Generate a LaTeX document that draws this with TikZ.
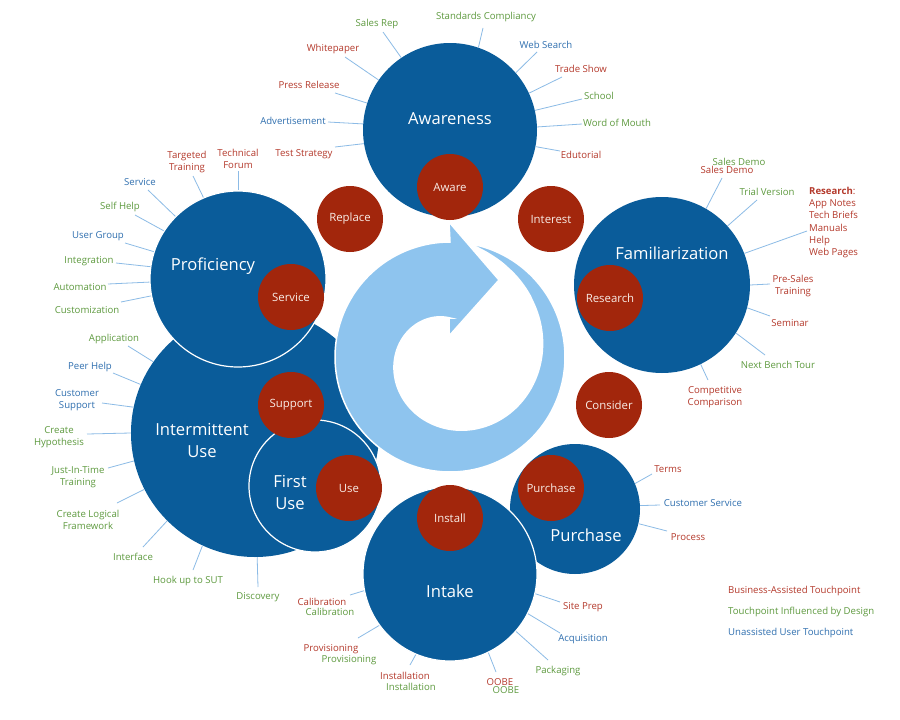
\documentclass[tikz,border=0pt]{standalone}
\usepackage{fontspec}
\setmainfont{Open Sans}
\definecolor{dkblue}{HTML}{0A5C9A}
\definecolor{rdc}{HTML}{A2260C}
\definecolor{arrowc}{HTML}{8EC4EE}
\definecolor{spokec}{HTML}{8CBBE6}
\definecolor{lred}{HTML}{B4392B}
\definecolor{lgreen}{HTML}{5E9A3F}
\definecolor{lblue}{HTML}{2F6FAF}
\definecolor{rtext}{HTML}{F8ECE6}
\begin{document}
\begin{tikzpicture}[x=1pt,y=-1pt,
  bigc/.style={circle, fill=dkblue, inner sep=0pt, minimum size=#1},
  outl/.style={draw=white, line width=1.2pt},
  redc/.style={circle, fill=rdc, inner sep=0pt, minimum size=66pt, text=rtext, font=\fontsize{11.4}{13}\selectfont},
  bigt/.style={text=white, align=center, inner sep=0pt, font=\fontsize{16.6}{22}\selectfont},
  lbl/.style={align=center, inner sep=0pt, font=\fontsize{9.6}{12.2}\selectfont},
  lr/.style={lbl, text=lred},
  lg/.style={lbl, text=lgreen},
  lb/.style={lbl, text=lblue},
  spoke/.style={draw=spokec, line width=0.8pt}]
\useasboundingbox[fill=white] (0,0) rectangle (900,720);

% big circles (back)
\node[bigc=248pt] (im) at (255,433) {};
\node[bigc=176pt, outl] (pr) at (238,279) {};
\node[bigc=132pt, outl] (fu) at (315,486) {};

% circular arrow
\fill[arrowc, draw=white, line width=1.5pt]
  plot[domain=80:-270, samples=140] ({450+115*cos(\x)}, {357-115*sin(\x)})
  -- (449,222) -- (499,280) -- (449,336) -- (449,318)
  -- plot[domain=-270:80, samples=140] ({450+(115-76*((80-\x)/350)^0.8)*cos(\x)}, {357-(115-76*((80-\x)/350)^0.8)*sin(\x)})
  -- cycle;

\node[bigc=174pt] (aw) at (450,130) {};
\node[bigc=176pt] (fa) at (662,285) {};
\node[bigc=130pt] (pu) at (575,509) {};
\node[bigc=174pt, outl] (in) at (450,574) {};

% red circles
\node[redc] (r1) at (450,187) {Aware};
\node[redc] (r2) at (551,219) {Interest};
\node[redc] (r3) at (350,219) {Replace};
\node[redc] (r4) at (610,298) {Research};
\node[redc] (r5) at (291,297) {Service};
\node[redc] (r6) at (291,405) {Support};
\node[redc] (r7) at (609,405) {Consider};
\node[redc] (r8) at (349,488) {Use};
\node[redc] (r9) at (551,488) {Purchase};
\node[redc] (r10) at (450,518) {Install};

% big texts
\node[bigt] (tAw) at (450,119) {Awareness};
\node[bigt] (tFa) at (672,253) {Familiarization};
\node[bigt] (tPr) at (213,266) {Proficiency};
\node[bigt] (tIm) at (202,440) {Intermittent\\Use};
\node[bigt] (tFu) at (290,492) {First\\Use};
\node[bigt] (tPu) at (586,535) {Purchase};
\node[bigt] (tIn) at (450,591) {Intake};

% Awareness labels
\node[lg] (a1) at (377,24) {Sales Rep};
\node[lg] (a2) at (486,17) {Standards Compliancy};
\node[lr] (a3) at (333,49) {Whitepaper};
\node[lr] (a4) at (309,85) {Press Release};
\node[lb] (a5) at (293,121) {Advertisement};
\node[lr] (a6) at (304,154) {Test Strategy};
\node[lb] (a7) at (546,45) {Web Search};
\node[lr] (a8) at (581,69) {Trade Show};
\node[lg] (a9) at (599,96) {School};
\node[lg] (a10) at (617,123) {Word of Mouth};
\node[lr] (a11) at (581,155) {Edutorial};
\draw[spoke] (383,32) -- (aw.124.8);
\draw[spoke] (483,28) -- (aw.71.8);
\draw[spoke] (345,57) -- (aw.145.2);
\draw[spoke] (335,93) -- (aw.162);
\draw[spoke] (328,122) -- (aw.176.7);
\draw[spoke] (335,147) -- (aw.189.7);
\draw[spoke] (537,52) -- (aw.41.7);
\draw[spoke] (562,77) -- (aw.25.7);
\draw[spoke] (582,99) -- (aw.13);
\draw[spoke] (582,124) -- (aw.2);
\draw[spoke] (560,151) -- (aw.-11);

% Proficiency labels
\node[lr] (p1) at (187,162) {Targeted\\Training};
\node[lr] (p2) at (238,159) {Technical\\Forum};
\node[lb] (p3) at (140,182) {Service};
\node[lg] (p4) at (120,207) {Self Help};
\node[lb] (p5) at (98,236) {User Group};
\node[lg] (p6) at (89,261) {Integration};
\node[lg] (p7) at (80,287) {Automation};
\node[lg] (p8) at (87,310) {Customization};
\draw[spoke] (193,176) -- (pr.113);
\draw[spoke] (238,171) -- (pr.90);
\draw[spoke] (148,190) -- (pr.135);
\draw[spoke] (135,215) -- (pr.147.9);
\draw[spoke] (125,243) -- (pr.162);
\draw[spoke] (116,263) -- (pr.172);
\draw[spoke] (108,284) -- (pr.182.6);
\draw[spoke] (121,302) -- (pr.191);

% Intermittent labels
\node[lg] (i1) at (114,339) {Application};
\node[lb] (i2) at (90,367) {Peer Help};
\node[lb] (i3) at (77,400) {Customer\\Support};
\node[lg] (i4) at (59,437) {Create\\Hypothesis};
\node[lg] (i5) at (78,477) {Just-In-Time\\Training};
\node[lg] (i6) at (88,520) {Create Logical\\Framework};
\node[lg] (i7) at (133,557) {Interface};
\node[lg] (i8) at (188,581) {Hook up to SUT};
\node[lg] (i9) at (258,597) {Discovery};
\draw[spoke] (128,346) -- (im.145.2);
\draw[spoke] (113,373) -- (im.157.3);
\draw[spoke] (102,403) -- (im.168.9);
\draw[spoke] (87,434) -- (im.180.5);
\draw[spoke] (108,468) -- (im.193.6);
\draw[spoke] (117,503) -- (im.207.2);
\draw[spoke] (143,547) -- (im.225);
\draw[spoke] (193,570) -- (im.245.5);
\draw[spoke] (258,587) -- (im.271.4);

% Familiarization labels
\node[lg] (f1) at (739,162) {Sales Demo};
\node[lr] (f2) at (727,170) {Sales Demo};
\node[lg] (f3) at (767,192) {Trial Version};
\node[lr, align=left, anchor=north west] (f4) at (809,187) {\textbf{Research}:\\App Notes\\Tech Briefs\\Manuals\\Help\\Web Pages};
\node[lr] (f5) at (793,286) {Pre-Sales\\Training};
\node[lr] (f6) at (790,323) {Seminar};
\node[lg] (f7) at (778,365) {Next Bench Tour};
\node[lr] (f8) at (715,397) {Competitive\\Comparison};
\draw[spoke] (722,178) -- (fa.60.8);
\draw[spoke] (757,200) -- (fa.42.3);
\draw[spoke] (807,231) -- (fa.21);
\draw[spoke] (770,284) -- (fa.0.6);
\draw[spoke] (770,316) -- (fa.-15.8);
\draw[spoke] (765,355) -- (fa.-33.5);
\draw[spoke] (708,380) -- (fa.-64);

% Purchase labels
\node[lr] (u1) at (668,469) {Terms};
\node[lb] (u2) at (703,503) {Customer Service};
\node[lr] (u3) at (688,537) {Process};
\draw[spoke] (652,474) -- (pu.23.9);
\draw[spoke] (660,505) -- (pu.3.4);
\draw[spoke] (667,531) -- (pu.-13);

% Intake labels
\node[lr] (n1) at (583,607) {Site Prep};
\node[lb] (n2) at (583,639) {Acquisition};
\node[lg] (n3) at (558,671) {Packaging};
\node[lr] (n4) at (500,682) {OOBE};
\node[lg] (n5) at (506,690) {OOBE};
\node[lr] (n6) at (405,676) {Installation};
\node[lg] (n7) at (411,687) {Installation};
\node[lr] (n8) at (331,649) {Provisioning};
\node[lg] (n9) at (349,660) {Provisioning};
\node[lr] (n10) at (322,602) {Calibration};
\node[lg] (n11) at (330,612) {Calibration};
\draw[spoke] (560,602) -- (in.-13.6);
\draw[spoke] (560,633) -- (in.-27.5);
\draw[spoke] (548,660) -- (in.-41.4);
\draw[spoke] (496,672) -- (in.-64.3);
\draw[spoke] (410,665) -- (in.-113.4);
\draw[spoke] (358,638) -- (in.-144.7);
\draw[spoke] (350,595) -- (in.191.7);

% legend
\node[lr, anchor=west] (g1) at (728,591) {Business-Assisted Touchpoint};
\node[lg, anchor=west] (g2) at (728,612) {Touchpoint Influenced by Design};
\node[lb, anchor=west] (g3) at (728,633) {Unassisted User Touchpoint};
\end{tikzpicture}
\end{document}
